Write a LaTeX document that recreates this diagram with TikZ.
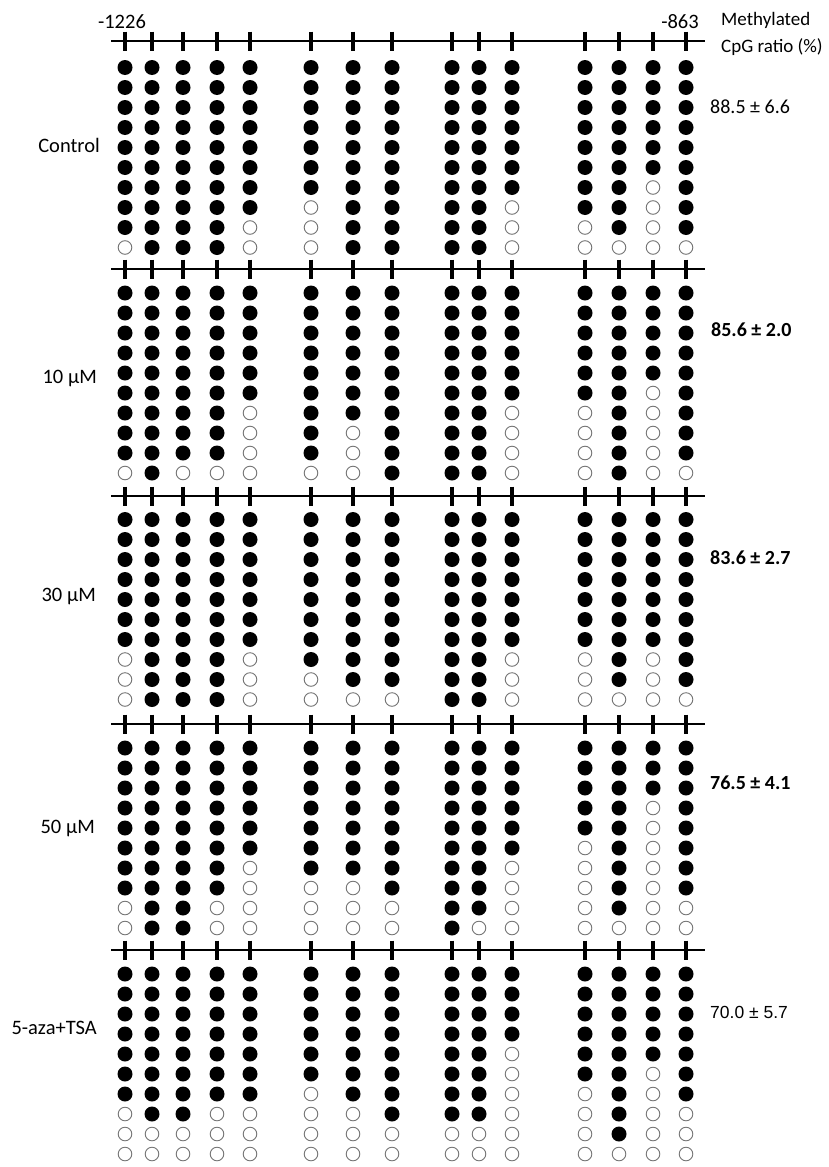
\documentclass[tikz,border=0pt]{standalone}
\usepackage{fontspec}
\setmainfont{Carlito}
\newfontfamily\arialf{Liberation Sans}
\newcommand\cpgpanel[3]{% #1 line y, #2 first-row offset, #3 x/k pairs
  \draw[strand] (111,#1) -- (705,#1);
  \foreach \x/\k in {#3} {
    \draw[cpgtick] (\x,#1-9.5) -- (\x,#1+9.5);
    \foreach \r in {1,...,10} {
      \pgfmathsetmacro\yy{#1+#2+20*(\r-1)}
      \ifnum\r>\k\relax
        \draw[unmeth] (\x,\yy) circle (6.8pt);
      \else
        \fill[meth] (\x,\yy) circle (7.5pt);
      \fi
    }
  }
}
\begin{document}
\begin{tikzpicture}[x=1pt,y=-1pt,
  meth/.style={fill=black},
  unmeth/.style={draw=black!55,line width=0.9pt,fill=white},
  strand/.style={line width=1.5pt},
  cpgtick/.style={line width=3.2pt},
  lbl/.style={font=\fontsize{20.5}{24}\selectfont,inner sep=0pt},
  hdr/.style={font=\fontsize{19}{22}\selectfont,inner sep=0pt,anchor=west},
  val/.style={font=\fontsize{20}{24}\selectfont,inner sep=0pt,anchor=west}]
\useasboundingbox (0,0) rectangle (829,1167);
\fill[white] (0,0) rectangle (829,1167);

% Control
\cpgpanel{41}{26.5}{125/9,152/10,183/10,217/10,250/8,311/7,353/10,392/10,452/10,479/10,512/7,585/8,619/9,653/6,686/9}
% 10 uM
\cpgpanel{269}{24}{125/9,152/10,183/9,217/9,250/6,311/9,353/7,392/10,452/10,479/10,512/6,585/6,619/10,653/5,686/9}
% 30 uM
\cpgpanel{496}{23.5}{125/7,152/10,183/10,217/10,250/7,311/8,353/9,392/9,452/10,479/10,512/7,585/7,619/9,653/7,686/9}
% 50 uM
\cpgpanel{724}{24}{125/8,152/10,183/10,217/8,250/6,311/7,353/7,392/8,452/10,479/9,512/6,585/5,619/9,653/3,686/8}
% 5-aza+TSA
\cpgpanel{950}{24}{125/7,152/8,183/8,217/7,250/7,311/6,353/7,392/8,452/8,479/8,512/4,585/6,619/9,653/5,686/7}

% header
\node[lbl] (start) at (122,22) {-1226};
\node[lbl] (stop) at (680,22) {-863};
\node[hdr] (hdr1) at (721,20) {Methylated};
\node[hdr] (hdr2) at (721,47) {CpG ratio (\%)};

% group labels
\node[lbl,anchor=east] (g1) at (100,145) {Control};
\node[lbl,anchor=east] (g2) at (97,378) {10 µM};
\node[lbl,anchor=east] (g3) at (96,596) {30 µM};
\node[lbl,anchor=east] (g4) at (95,828) {50 µM};
\node[lbl,anchor=east] (g5) at (97,1028) {5-aza+TSA};

% ratios
\node[val] (v1) at (710,107) {88.5 ± 6.6};
\node[val] (v2) at (711,330) {\bfseries 85.6 ± 2.0};
\node[val] (v3) at (710,558) {\bfseries 83.6 ± 2.7};
\node[val] (v4) at (710,783) {\bfseries 76.5 ± 4.1};
\node[val,font=\arialf\fontsize{17.5}{20}\selectfont] (v5) at (710,1012) {70.0 ± 5.7};
\end{tikzpicture}
\end{document}
